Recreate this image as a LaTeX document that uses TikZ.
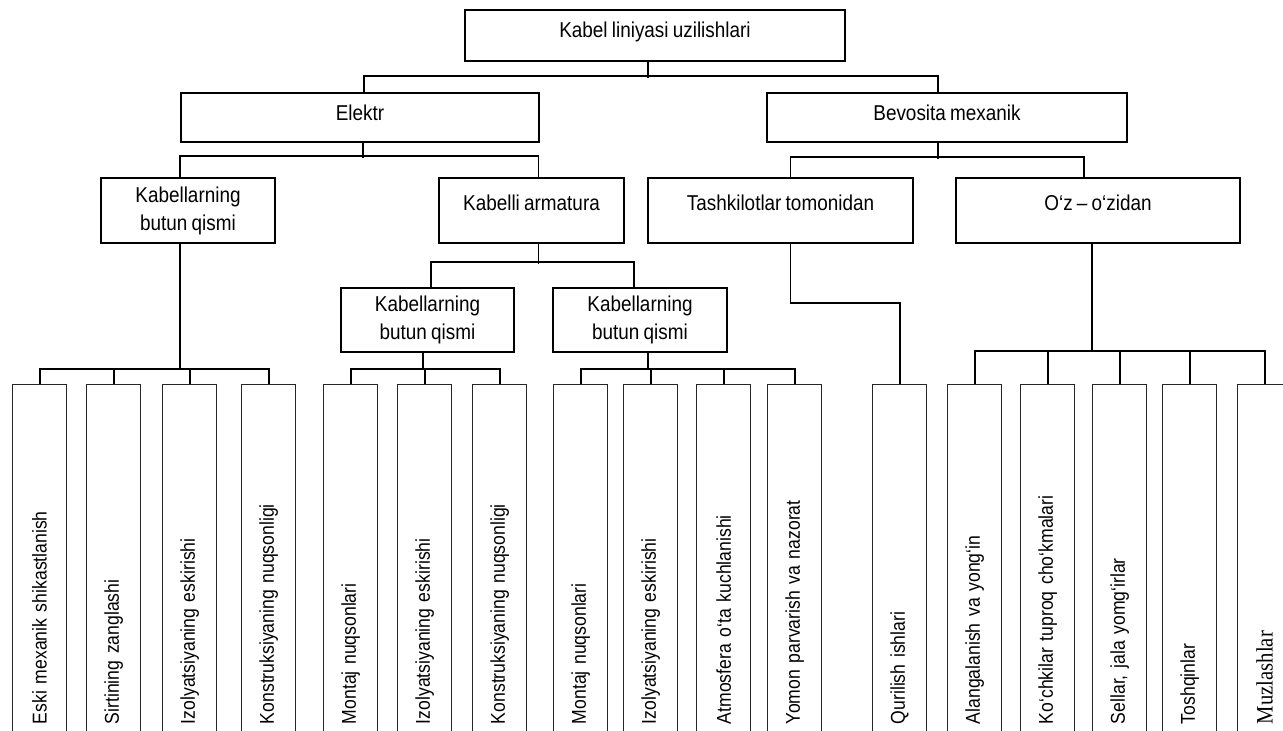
\documentclass[tikz,border=0pt]{standalone}
\usepackage{fontspec}
\setmainfont{Liberation Sans}[FakeStretch=0.88, WordSpace=0.8]
\newfontfamily\muzfont{Liberation Serif}[FakeStretch=0.88]
\usetikzlibrary{positioning}

\begin{document}
\begin{tikzpicture}[
  x=1pt, y=-1pt,
  box/.style={draw, line width=1.8pt, inner sep=0pt, align=center,
              font=\fontsize{21.5}{28}\selectfont},
  lvlone/.style={box, minimum height=49pt, text height=27.5pt, text depth=21.5pt},
  lvltwo/.style={box, minimum height=65pt, text height=32pt, text depth=33pt},
  twoline/.style={box, minimum height=65pt},
  leaf/.style={draw=black!85, line width=1.2pt, rotate=90, anchor=north east,
               minimum height=54pt, text width=331pt, inner xsep=8.5pt,
               inner ysep=0pt, align=left, font=\fontsize{20}{24}\selectfont},
  conn/.style={line width=1.9pt},
]
\useasboundingbox (0,0) rectangle (1283,731);
\clip (0,0) rectangle (1283,731);

%% Root
\node[box, minimum width=380pt, minimum height=51pt, text height=27.5pt,
      text depth=23.5pt] (root) at (655,35.5) {Kabel liniyasi uzilishlari};

%% Level 1
\node[lvlone, minimum width=358pt] (elektr)  at (360,117.5) {Elektr};
\node[lvlone, minimum width=360pt] (mexanik) at (947,117.5) {Bevosita mexanik};

%% Level 2
\node[twoline, minimum width=174pt] (kbutun)    at (188,210.5)   {Kabellarning\\butun qismi};
\node[lvltwo,  minimum width=185pt] (karmatura) at (531.5,210.5) {Kabelli armatura};
\node[lvltwo,  minimum width=265pt] (tashkil)   at (780.5,210.5) {Tashkilotlar tomonidan};
\node[lvltwo,  minimum width=284pt] (ozidan)    at (1098,210.5)  {O‘z – o‘zidan};

%% Level 3: under the armature
\node[twoline, minimum width=173pt, minimum height=64pt] (kbutunA) at (427.5,320) {Kabellarning\\butun qismi};
\node[twoline, minimum width=174pt, minimum height=64pt] (kbutunB) at (640,320)   {Kabellarning\\butun qismi};

%% Leaves
\node[leaf] (e1) at (12,384)  {Eski mexanik shikastlanish};
\node[leaf] (e2) at (86,384)  {Sirtining zanglashi};
\node[leaf] (e3) at (162,384) {Izolyatsiyaning eskirishi};
\node[leaf] (e4) at (241,384) {Konstruksiyaning nuqsonligi};

\node[leaf] (a1) at (323,384) {Montaj nuqsonlari};
\node[leaf] (a2) at (397,384) {Izolyatsiyaning eskirishi};
\node[leaf] (a3) at (472,384) {Konstruksiyaning nuqsonligi};

\node[leaf] (b1) at (553,384) {Montaj nuqsonlari};
\node[leaf] (b2) at (623,384) {Izolyatsiyaning eskirishi};
\node[leaf] (b3) at (696,384) {Atmosfera o‘ta kuchlanishi};
\node[leaf] (b4) at (767,384) {Yomon parvarish va nazorat};

\node[leaf] (t1) at (872,384) {Qurilish ishlari};

\node[leaf] (o1) at (947,384)  {Alangalanish va yong‘in};
\node[leaf] (o2) at (1020,384) {Ko‘chkilar tuproq cho‘kmalari};
\node[leaf] (o3) at (1092,384) {Sellar, jala yomg‘irlar};
\node[leaf] (o4) at (1162,384) {Toshqinlar};
\node[leaf, font=\muzfont\fontsize{23.5}{26}\selectfont] (o5) at (1237,384) {Muzlashlar};

%% Connectors: root
\draw[conn] ([xshift=-7pt]root.south) -- ++(0,16);
\draw[conn] ([xshift=4pt]elektr.north) -- ++(0,-16) -| ([xshift=-9pt]mexanik.north);

%% Connectors: Elektr
\draw[conn] ([xshift=3pt]elektr.south) -- ++(0,15);
\draw[conn] ([xshift=-8pt]kbutun.north) -- ++(0,-21) -| ([xshift=7pt]karmatura.north);
\draw[conn] ([xshift=-8pt]kbutun.south) -- ++(0,125);
\draw[conn] (e1.east) -- ++(0,-15) -| (e4.east);
\draw[conn] (e2.east) -- ++(0,-15);
\draw[conn] (e3.east) -- ++(0,-15);

\draw[conn] ([xshift=7pt]karmatura.south) -- ++(0,20);
\draw[conn] ([xshift=3.5pt]kbutunA.north) -- ++(0,-25) -| ([xshift=-6pt]kbutunB.north);
\draw[conn] ([xshift=-4.5pt]kbutunA.south) -- ++(0,17);
\draw[conn] (a1.east) -- ++(0,-15) -| (a3.east);
\draw[conn] (a2.east) -- ++(0,-15);
\draw[conn] ([xshift=8pt]kbutunB.south) -- ++(0,17);
\draw[conn] (b1.east) -- ++(0,-15) -| (b4.east);
\draw[conn] (b2.east) -- ++(0,-15);
\draw[conn] (b3.east) -- ++(0,-15);

%% Connectors: Bevosita mexanik
\draw[conn] ([xshift=-9pt]mexanik.south) -- ++(0,16);
\draw[conn] ([xshift=10pt]tashkil.north) -- ++(0,-20) -| ([xshift=-14pt]ozidan.north);
\draw[conn] ([xshift=10pt]tashkil.south) -- ++(0,59) -| (t1.east);
\draw[conn] ([xshift=-6pt]ozidan.south) -- ++(0,108);
\draw[conn] (o1.east) -- ++(0,-33) -| (o5.east);
\draw[conn] (o2.east) -- ++(0,-33);
\draw[conn] (o3.east) -- ++(0,-33);
\draw[conn] (o4.east) -- ++(0,-33);

\end{tikzpicture}
\end{document}
